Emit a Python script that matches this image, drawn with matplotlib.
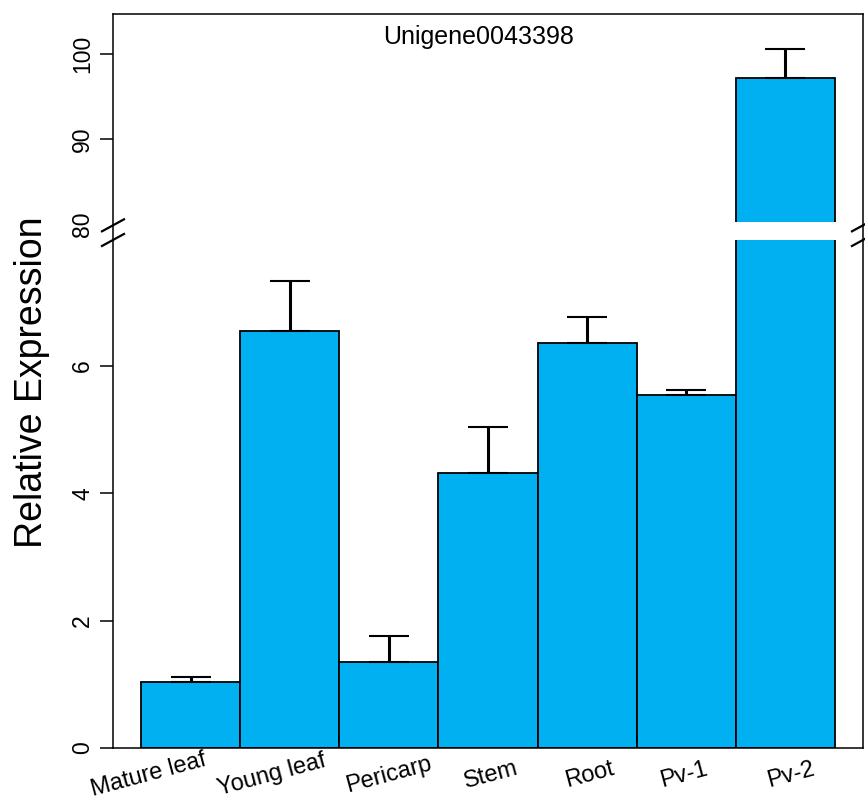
import numpy as np
import matplotlib
matplotlib.use("Agg")
import matplotlib.pyplot as plt
import matplotlib.transforms as mtransforms
from matplotlib.scale import FuncScale

plt.rcParams['font.family'] = ['Liberation Sans', 'DejaVu Sans']

# data
tissues = ["Mature leaf", "Young leaf", "Pericarp", "Stem", "Root", "Pv-1", "Pv-2"]
expr = [1.04, 6.55, 1.355, 4.32, 6.36, 5.54, 97.2]
err = [0.07, 0.78, 0.40, 0.72, 0.40, 0.08, 3.4]
yticks = [0, 2, 4, 6, 80, 90, 100]
gene = "Unigene0043398"

# axis break: 0-8 drawn at full scale, 80+ squeezed above it
lo_top, hi_bot = 8.0, 80.0
gap = 0.23
k = 0.1334


def fwd(y):
    y = np.asarray(y, dtype=float)
    mid = lo_top + (y - lo_top) / (hi_bot - lo_top) * gap
    hi = lo_top + gap + (y - hi_bot) * k
    return np.where(y <= lo_top, y, np.where(y >= hi_bot, hi, mid))


def inv(u):
    u = np.asarray(u, dtype=float)
    mid = lo_top + (u - lo_top) * (hi_bot - lo_top) / gap
    hi = hi_bot + (u - lo_top - gap) / k
    return np.where(u <= lo_top, u, np.where(u >= lo_top + gap, hi, mid))


fig = plt.figure(figsize=(8.65, 8.01), dpi=100)
ax = fig.add_axes([113/865, 53/801, 750/865, 734/801])
ax.set_yscale(FuncScale(ax.yaxis, (fwd, inv)))

x = np.arange(len(tissues))
ax.bar(x, expr, width=1.0, color="#00b0f0", edgecolor="black", linewidth=1.3, zorder=1)
ax.errorbar(x, expr, yerr=[np.zeros(len(err)), err], fmt="none", ecolor="black",
            elinewidth=2.2, capsize=14.5, capthick=1.5, zorder=2)

ax.set_xlim(-0.783, len(tissues) - 1 + 0.783)
ax.set_ylim(0, 104.7)

# white band through the broken bar
ax.axhspan(lo_top - 0.03, hi_bot + 0.2, xmin=0.004, xmax=0.996, fc="white", ec="none", zorder=1.5)

for s in ax.spines.values():
    s.set_linewidth(1.1)

ax.set_yticks(yticks)
ax.set_yticklabels([str(t) for t in yticks], rotation=90, va="center", fontsize=16.5)
ax.tick_params(axis="y", length=9.5, width=1.1, pad=4)
ax.yaxis.get_major_ticks()[4].tick1line.set_visible(False)
ax.set_xticks([])

# break marks on both sides
fig.canvas.draw()
to_ax = ax.transAxes.inverted()
dx, dy = 11/750, 6/734
for v in (hi_bot, lo_top):
    ya = to_ax.transform(ax.transData.transform((0, v)))[1]
    for xa in (0, 1):
        ax.plot([xa - dx, xa + dx], [ya - dy - 0.002, ya + dy - 0.002], color="black",
                lw=1.6, transform=ax.transAxes, clip_on=False, zorder=5)

# slanted category labels
label_dx = [-42, -18, 0, 3, 3, -2, 6]
for i, name in enumerate(tissues):
    off = mtransforms.ScaledTranslation(label_dx[i]/100, -27/100, fig.dpi_scale_trans)
    ax.text(x[i], 0, name, transform=ax.get_xaxis_transform() + off, rotation=15,
            rotation_mode="anchor", ha="center", va="center", fontsize=17)

ax.text(0.488, (748-37)/734, gene, transform=ax.transAxes, ha="center", va="center", fontsize=18)
fig.text(32/865, (801-382)/801, "Relative Expression", rotation=90, ha="center", va="center", fontsize=27)

fig.savefig("out.png", dpi=100)
